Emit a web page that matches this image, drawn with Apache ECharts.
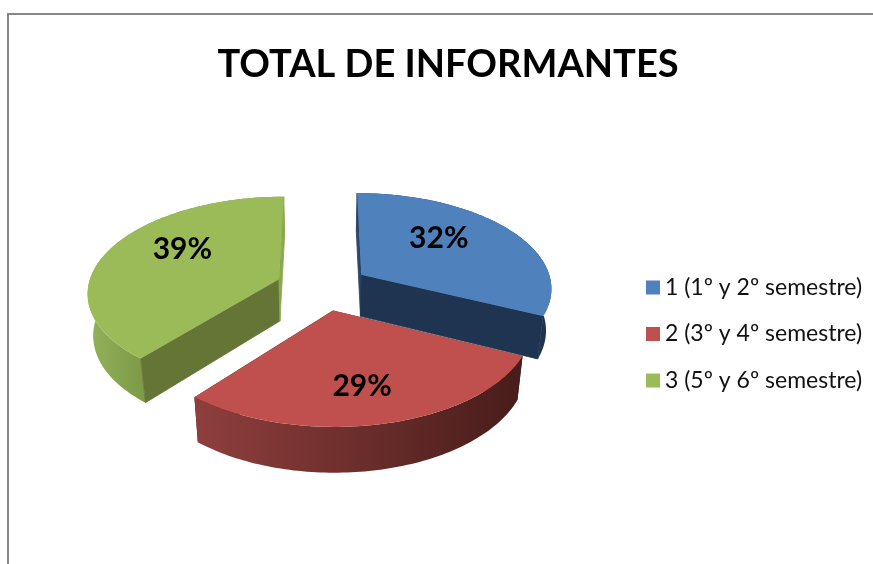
<!DOCTYPE html>
<html>
<head>
<meta charset="utf-8">
<style>html,body{margin:0;padding:0;background:#fff}#c{width:873px;height:564px}</style>
<script src="https://cdn.jsdelivr.net/npm/echarts@6/dist/echarts.min.js"></script>
</head>
<body>
<div id="c"></div>
<script>
const titleText = 'TOTAL DE INFORMANTES';
const categories = ['1 (1º y 2º semestre)', '2 (3º y 4º semestre)', '3 (5º y 6º semestre)'];
const shares = [32, 29, 39];

// Appearance only
const topColors = ['#4f81bd', '#c0504d', '#9bbb59'];
const drawOrder = [0, 2, 1];
const wallStyle = [
  { start: '#2a4568', end: '#1f3450', outer: ['#1f3450', '#1f3450'], range: [500, 560], cutsInFront: true },
  { start: '#3f1a18', end: '#3f1a18', outer: ['#8f3f3d', '#471c1a'], range: [195, 525], cutsInFront: false },
  { start: '#647535', end: '#8aa84f', outer: ['#93b25a', '#7c9a46'], range: [88, 145], cutsInFront: true }
];
const labelPlace = [{ r: 0.5, lift: 13, dx: 2 }, { r: 0.7, lift: 0, dx: -5 }, { r: 0.55, lift: 13, dx: -2 }];

const view = { cx: 322.5, cy: 287, A: 191, a: 95, b: 0.128, k: 0.024, h: 43, explode: 0.245 };

function project(X, Y, Z) {
  const w = 1 - view.b * Y + view.k * Z;
  return [view.cx + view.A * X / w, view.cy + (view.a * Y + view.h * Z) / w];
}

const total = shares.reduce((s, v) => s + v, 0);
function angles(i) {
  let before = 0;
  for (let j = 0; j < i; j++) before += shares[j];
  return [before / total * 2 * Math.PI, (before + shares[i]) / total * 2 * Math.PI];
}

function sliceRender(i) {
  return function () {
    const [a0, a1] = angles(i);
    const mid = (a0 + a1) / 2;
    const ox = view.explode * Math.sin(mid), oy = -view.explode * Math.cos(mid);
    const at = (t, r, z) => project(ox + r * Math.sin(t), oy - r * Math.cos(t), z);
    const arc = z => {
      const pts = [];
      const n = 90;
      for (let s = 0; s <= n; s++) pts.push(at(a0 + (a1 - a0) * s / n, 1, z));
      return pts;
    };
    const st = wallStyle[i];
    const poly = (points, fill, stroke) => ({
      type: 'polygon', shape: { points },
      style: { fill, stroke: stroke || null, lineWidth: stroke ? 0.8 : 0 }, silent: true
    });
    const outer = poly(arc(0).concat(arc(1).reverse()), {
      type: 'linear', global: true,
      x: st.range[0], y: 0, x2: st.range[1], y2: 0,
      colorStops: [{ offset: 0, color: st.outer[0] }, { offset: 1, color: st.outer[1] }]
    });
    const cuts = [
      poly([at(a0, 0, 0), at(a0, 1, 0), at(a0, 1, 1), at(a0, 0, 1)], st.start, st.cutsInFront ? st.start : null),
      poly([at(a1, 0, 0), at(a1, 1, 0), at(a1, 1, 1), at(a1, 0, 1)], st.end, st.cutsInFront ? st.end : null)
    ];
    const children = st.cutsInFront ? [outer, ...cuts] : [...cuts, outer];
    children.push(poly([at(a0, 0, 0)].concat(arc(0)), topColors[i]));
    const lp = labelPlace[i];
    const p = at(mid, lp.r, 0);
    children.push({
      type: 'text', silent: true,
      style: {
        x: p[0] + lp.dx, y: p[1] - lp.lift,
        text: shares[i] + '%',
        fill: '#000', font: 'bold 30px Lato', align: 'center', verticalAlign: 'middle'
      }
    });
    return { type: 'group', children };
  };
}

const chart = echarts.init(document.getElementById('c'), null, { renderer: 'canvas' });
chart.setOption({
  animation: false,
  backgroundColor: '#fff',
  title: {
    text: titleText, left: 443, top: 41, textAlign: 'center',
    textStyle: { fontFamily: 'Lato', fontWeight: 'bold', fontSize: 38, color: '#000' }
  },
  legend: {
    data: categories, orient: 'vertical', left: 641, top: 271,
    itemWidth: 14, itemHeight: 14, itemGap: 23.5,
    icon: 'rect', selectedMode: false,
    textStyle: { fontFamily: 'Lato', fontSize: 23, color: '#111', padding: [0, 0, 0, 0] }
  },
  graphic: [{
    type: 'polyline', silent: true, z: -1,
    shape: { points: [[8, 564], [8, 14], [873, 14]] },
    style: { stroke: '#868686', lineWidth: 2, fill: null }
  }],
  series: drawOrder.map(i => ({
    type: 'custom',
    name: categories[i],
    coordinateSystem: 'none',
    data: [shares[i]],
    itemStyle: { color: topColors[i] },
    renderItem: sliceRender(i)
  }))
});
</script>
</body>
</html>
